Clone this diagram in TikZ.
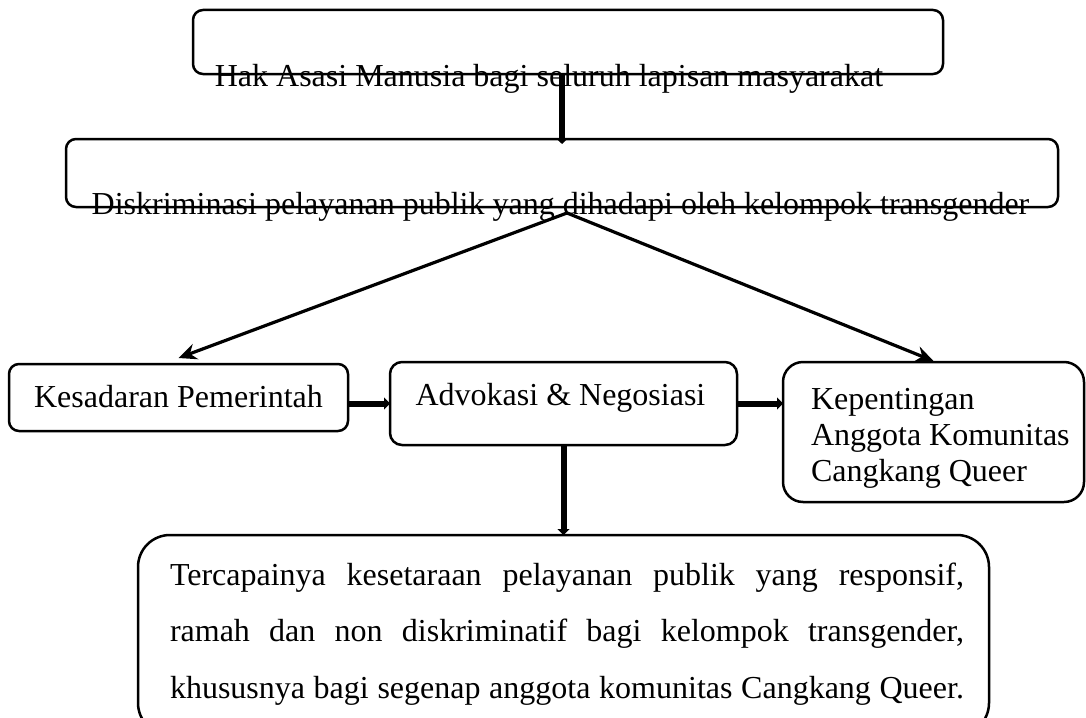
\documentclass[tikz,border=0pt]{standalone}
\usepackage{fontspec}
\setmainfont{Liberation Serif}
\usetikzlibrary{arrows.meta}
\begin{document}
\begin{tikzpicture}[x=1pt,y=-1pt,
  box/.style={draw, line width=2.5pt, rounded corners=#1, inner sep=0pt, outer sep=0pt, anchor=north west},
  box/.default=10pt,
  lbl/.style={inner sep=0pt, outer sep=0pt, font=\fontsize{32}{36}\selectfont},
  bigarrow/.style={line width=6pt, -{Triangle[length=6pt,width=12pt]}},
  thinarrow/.style={line width=3.2pt, -{Stealth[length=18pt,width=16pt]}}]
\useasboundingbox (0,0) rectangle (1086,717);
\fill[white] (0,0) rectangle (1086,717);
% boxes
\node[box, minimum width=750pt, minimum height=64pt] (b1) at (193,10) {};
\node[box, minimum width=992pt, minimum height=68pt] (b2) at (66,139) {};
\node[box, minimum width=339pt, minimum height=67pt] (b4) at (9,364) {};
\node[box=12pt, minimum width=347pt, minimum height=83pt] (b3) at (390,362) {};
\node[box=20pt, minimum width=301pt, minimum height=140pt] (b6) at (783,362) {};
\node[box=32pt, minimum width=851pt, minimum height=200pt] (b5) at (138,535) {};
% texts
\node[lbl, anchor=base] (t1) at (549,86) {Hak Asasi Manusia bagi seluruh lapisan masyarakat};
\node[lbl, anchor=base] (t2) at (560.5,214) {Diskriminasi pelayanan publik yang dihadapi oleh kelompok transgender};
\node[lbl, anchor=base] (t4) at (178.5,407) {Kesadaran Pemerintah};
\node[lbl, anchor=base] (t3) at (560.5,405) {Advokasi \& Negosiasi};
\node[lbl, anchor=base west] (t6) at (811,409) {\begin{tabular}[t]{@{}l@{}}Kepentingan\\Anggota Komunitas\\Cangkang Queer\end{tabular}};
\node[lbl, anchor=base west, font=\fontsize{32}{56.5}\selectfont] (t5) at (170,585) {\begin{tabular}[t]{@{}l@{}}%
\makebox[794pt][s]{Tercapainya kesetaraan pelayanan publik yang responsif,}\\
\makebox[794pt][s]{ramah dan non diskriminatif bagi kelompok transgender,}\\
\makebox[794pt][s]{khususnya bagi segenap anggota komunitas Cangkang Queer.}\end{tabular}};
% connectors
\coordinate (apex) at (567,213);
\draw[bigarrow] (b1.south -| b2.north) -- ([yshift=-5pt]b2.north);
\draw[thinarrow] (apex) -- ([yshift=6pt]b4.north);
\draw[thinarrow] (apex) -- ([yshift=1pt]b6.north);
\draw[bigarrow] (b4.east |- b3.west) -- (b3.west);
\draw[bigarrow] (b3.east) -- (b3.east -| b6.west);
\draw[bigarrow] (b3.south) -- (b5.north);
\end{tikzpicture}
\end{document}
